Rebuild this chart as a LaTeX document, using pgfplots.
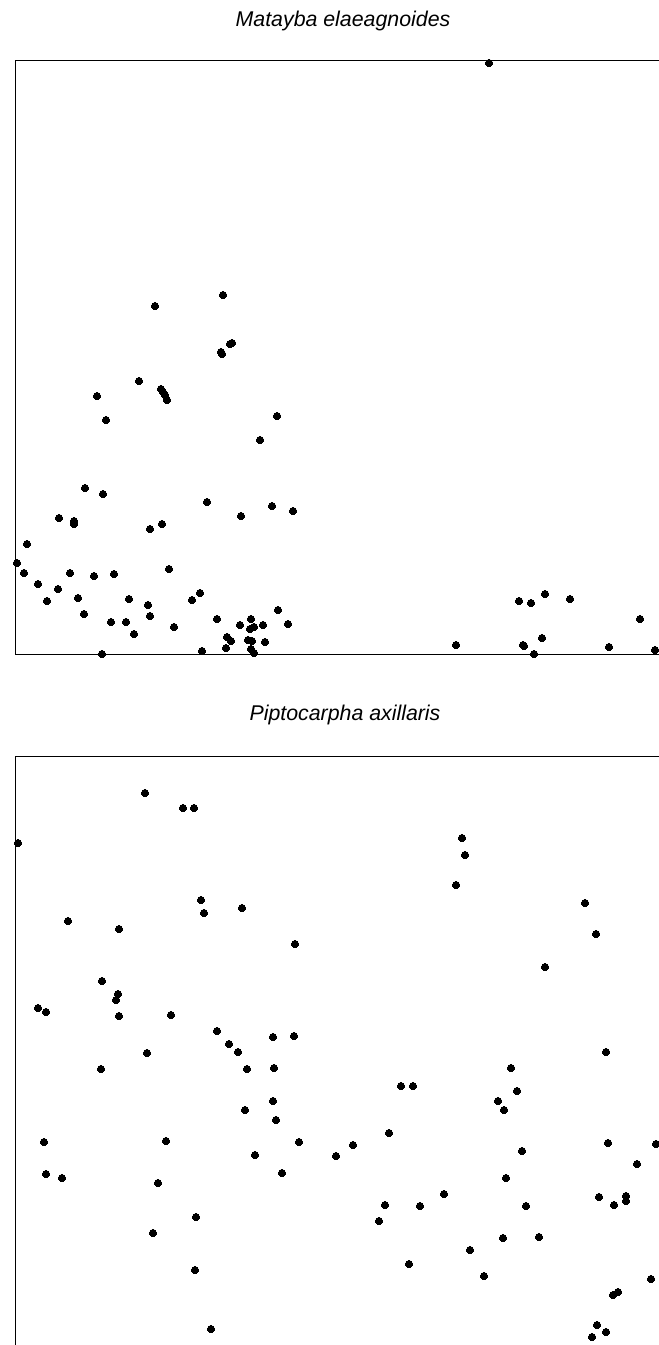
\documentclass[border=0pt]{standalone}
\usepackage{pgfplots}
\pgfplotsset{compat=1.18}
\usepackage{pgfplotstable}
\usepackage{fontspec}
\setmainfont{Liberation Sans}

% Ordination scores, one table per species (x = axis 1, y = axis 2, y grows downward)
\pgfplotstableread{
x y
489 63
223 295
155 306
232 343
230 344
221 352
222 354
139 381
161 389
163 392
165 395
167 400
97 396
106 420
277 416
260 440
85 488
103 494
207 502
272 506
293 511
59 518
74 521
74 524
241 516
162 524
150 529
27 544
17 563
24 573
70 573
94 576
114 574
169 569
38 584
58 589
200 593
47 601
78 598
129 599
148 605
192 600
84 614
150 616
111 622
126 622
134 634
174 627
217 619
240 625
251 619
250 629
254 627
263 625
278 610
288 624
227 637
231 641
248 640
252 641
265 642
226 648
202 651
102 654
251 649
254 653
456 645
519 601
531 603
545 594
570 599
523 645
524 646
542 638
534 654
640 619
609 647
655 650
}\matayba

\pgfplotstableread{
x y
145 793
183 808
194 808
18 843
462 838
465 855
456 885
201 900
204 913
242 908
585 903
68 921
119 929
596 934
295 944
545 967
102 981
118 994
116 1000
38 1008
46 1012
119 1016
171 1015
217 1031
229 1044
238 1052
273 1037
294 1036
147 1053
606 1052
101 1069
247 1069
274 1068
511 1068
401 1086
413 1086
517 1091
498 1101
504 1110
273 1101
245 1110
276 1120
389 1133
44 1142
166 1141
299 1142
353 1145
336 1156
255 1155
608 1143
656 1144
522 1151
637 1164
46 1174
62 1178
158 1183
282 1173
506 1178
444 1194
599 1197
626 1196
626 1201
614 1205
385 1205
420 1206
526 1206
379 1221
196 1217
153 1233
539 1237
503 1238
470 1250
409 1264
195 1270
484 1276
651 1279
618 1292
613 1295
211 1329
597 1325
606 1332
592 1337
}\piptocarpha

\pgfplotsset{
  panel/.style={
    anchor=north west,
    scale only axis,
    width=492pt, height=445.5pt,
    xmin=15, xmax=671,
    y dir=reverse,
    xtick=\empty, ytick=\empty,
    axis line style={black, line width=0.75pt},
    clip=false,
  },
  dots/.style={only marks, mark=*, mark size=2.75pt,
    mark options={fill=black, draw=black, line width=0pt}},
}

\begin{document}
\begin{tikzpicture}[x=0.75pt,y=0.75pt]
\path[use as bounding box] (0,0) rectangle (659,-1345);
\coordinate (P1) at (15,-60);
\coordinate (P2) at (15,-756);
\begin{scope}
\clip (0,0) rectangle (659,-1345);

\node[anchor=base, font=\fontsize{16}{19}\selectfont\itshape] at (343,-27) {Matayba elaeagnoides};
\begin{axis}[panel, at={(P1)}, ymin=60, ymax=654]
  \addplot[dots] table[x=x, y=y] {\matayba};
\end{axis}

\node[anchor=base, font=\fontsize{16}{19}\selectfont\itshape] at (345,-720) {Piptocarpha axillaris};
\begin{axis}[panel, at={(P2)}, ymin=756, ymax=1350]
  \addplot[dots] table[x=x, y=y] {\piptocarpha};
\end{axis}
\end{scope}
\end{tikzpicture}
\end{document}
